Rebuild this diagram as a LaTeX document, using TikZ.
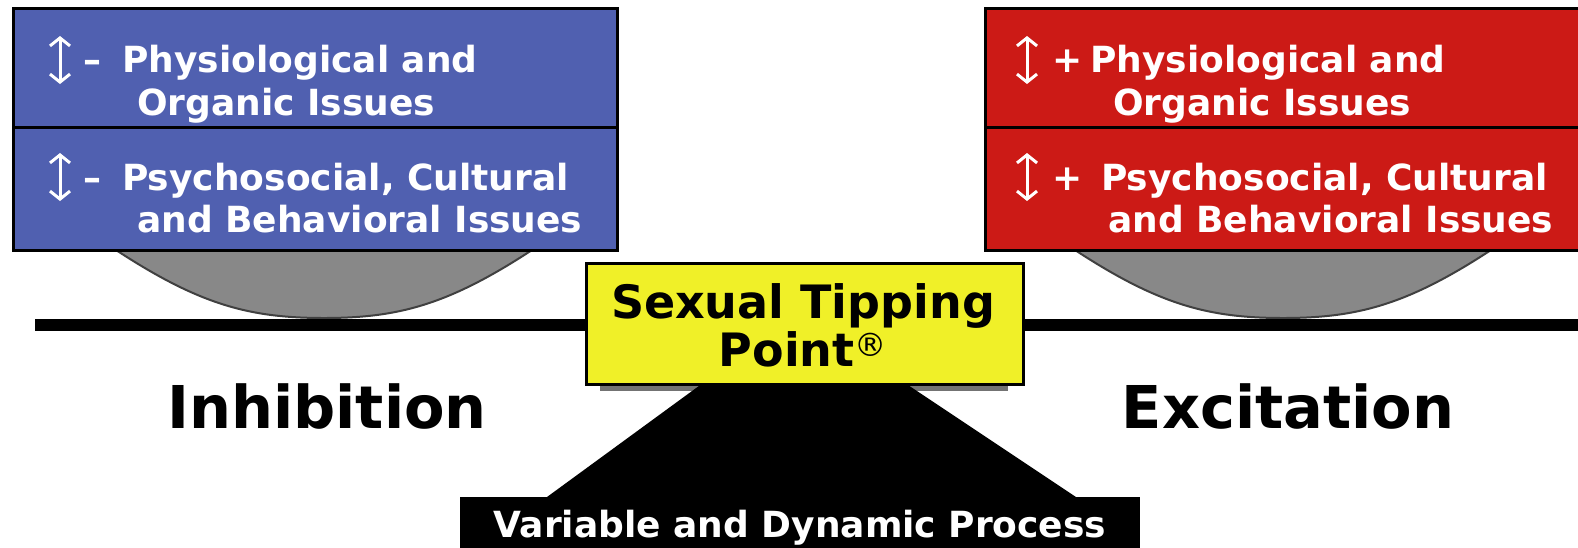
\documentclass[tikz,border=0pt]{standalone}
\usepackage{fontspec}
\setmainfont{DejaVu Sans}
\usetikzlibrary{arrows.meta}
\definecolor{boxblue}{RGB}{80,96,176}
\definecolor{boxred}{RGB}{204,26,22}
\definecolor{tipyellow}{RGB}{240,240,40}
\definecolor{bowlgray}{RGB}{136,136,136}
\tikzset{
  panel/.style={draw=black, line width=3pt},
  wtext/.style={text=white, inner sep=0pt, anchor=base west, font=\bfseries\fontsize{36}{43}\selectfont},
  bigtext/.style={text=black, inner sep=0pt, anchor=base, font=\bfseries\fontsize{59}{70}\selectfont},
  updown/.style={draw=white, line width=3pt, {Straight Barb[length=8pt,width=20pt,line width=3pt]}-{Straight Barb[length=8pt,width=20pt,line width=3pt]}},
  bowl/.style={fill=bowlgray, draw=black!75, line width=2pt}
}
\begin{document}
\begin{tikzpicture}[x=1pt,y=-1pt]
\useasboundingbox[fill=white] (0,0) rectangle (1578,547);
% bowls
\draw[bowl] (116,250) .. controls (200,305) and (250,318) .. (324,318) .. controls (398,318) and (448,305) .. (532,250) -- cycle;
\draw[bowl] (1075,250) .. controls (1159,305) and (1209,318) .. (1283,318) .. controls (1357,318) and (1407,305) .. (1491,250) -- cycle;
% beam
\fill[black] (35,319) rectangle (1590,331);
% boxes
\path[panel, fill=boxblue] (13,8) rectangle (617,250);
\draw[line width=3pt] (13,127) -- (617,127);
\path[panel, fill=boxred] (985,8) rectangle (1595,250);
\draw[line width=3pt] (985,127) -- (1595,127);
% blue texts
\draw[updown] (60,36) coordinate (ba1) -- (60,84) coordinate (bb1);
\node[wtext] (bm1) at (83,72) {–};
\node[wtext] (bt1) at (122,72) {Physiological and};
\node[wtext] (bt2) at (137,115) {Organic Issues};
\draw[updown] (60,153) coordinate (ba2) -- (60,201) coordinate (bb2);
\node[wtext] (bm2) at (83,190) {–};
\node[wtext] (bt3) at (122,190) {Psychosocial, Cultural};
\node[wtext] (bt4) at (137,232) {and Behavioral Issues};
% red texts
\draw[updown] (1027,36) coordinate (ra1) -- (1027,84) coordinate (rb1);
\node[wtext] (rm1) at (1052,72) {+};
\node[wtext] (rt1) at (1090,72) {Physiological and};
\node[wtext] (rt2) at (1113,115) {Organic Issues};
\draw[updown] (1027,153) coordinate (ra2) -- (1027,201) coordinate (rb2);
\node[wtext] (rm2) at (1052,190) {+};
\node[wtext] (rt3) at (1101,190) {Psychosocial, Cultural};
\node[wtext] (rt4) at (1108,232) {and Behavioral Issues};
% shadow and fulcrum
\fill[black!55] (600,383) rectangle (1008,391);
\fill[black] (703,383) -- (905,383) -- (1076,497) -- (547,497) -- cycle;
\fill[black] (460,497) rectangle (1140,560);
\node[text=white, inner sep=0pt, anchor=base, font=\bfseries\fontsize{36}{43}\selectfont] (proc) at (800,537) {Variable and Dynamic Process};
% tipping point
\node[panel, fill=tipyellow, minimum width=437pt, minimum height=121pt, inner sep=0pt, anchor=north west] (tip) at (585,262) {};
\node[inner sep=0pt, anchor=base, font=\bfseries\fontsize{46}{54}\selectfont] (tip1) at (803,318) {Sexual Tipping};
\node[inner sep=0pt, anchor=base, font=\bfseries\fontsize{46}{54}\selectfont] (tip2) at (803,366) {Point\textsuperscript{\normalfont\textregistered}};
% labels
\node[bigtext] (inh) at (327,428) {Inhibition};
\node[bigtext] (exc) at (1288,428) {Excitation};
\end{tikzpicture}
\end{document}
